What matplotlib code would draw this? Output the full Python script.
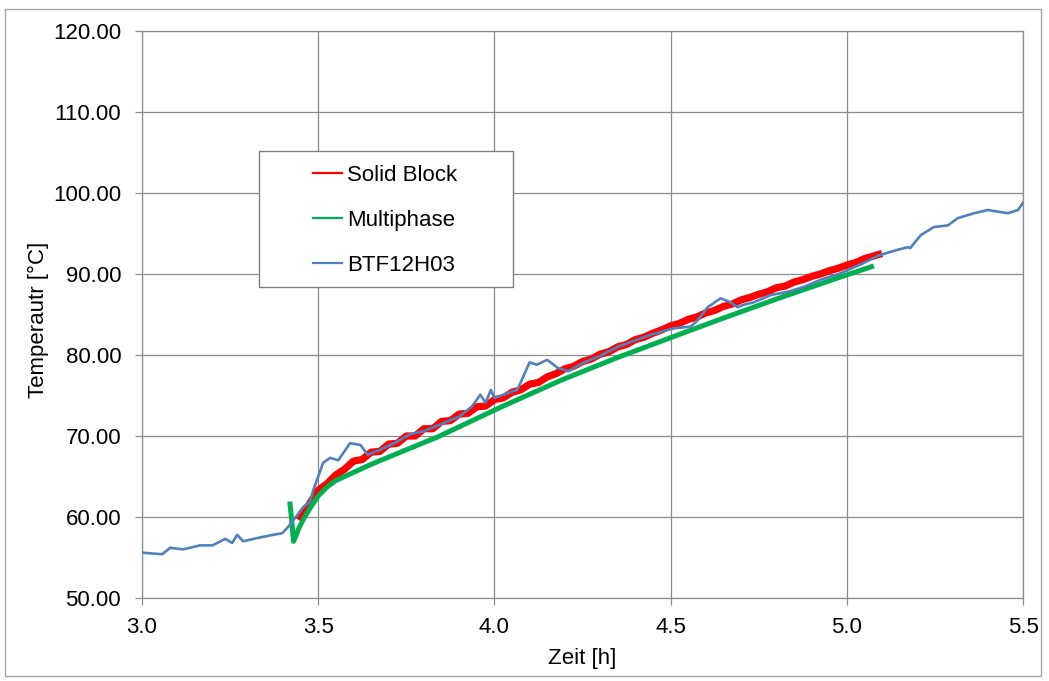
import matplotlib
matplotlib.use("Agg")
import matplotlib.pyplot as plt
from matplotlib.lines import Line2D
from matplotlib.patches import Rectangle
from matplotlib.ticker import MultipleLocator, FormatStrFormatter

plt.rcParams["font.family"] = ["Liberation Sans", "DejaVu Sans"]

# Solid Block simulation (noisy solver output)
solid_t = [3.450, 3.475, 3.500, 3.525, 3.550, 3.575, 3.600, 3.625, 3.650, 3.675,
           3.700, 3.725, 3.750, 3.775, 3.800, 3.825, 3.850, 3.875, 3.900, 3.925,
           3.950, 3.975, 4.000, 4.025, 4.050, 4.075, 4.100, 4.125, 4.150, 4.175,
           4.200, 4.225, 4.250, 4.275, 4.300, 4.325, 4.350, 4.375, 4.400, 4.425,
           4.450, 4.475, 4.500, 4.525, 4.550, 4.575, 4.600, 4.625, 4.650, 4.675,
           4.700, 4.725, 4.750, 4.775, 4.800, 4.825, 4.850, 4.875, 4.900, 4.925,
           4.950, 4.975, 5.000, 5.025, 5.050, 5.075, 5.090]
solid_T = [60.0, 61.6, 63.3, 64.1, 65.2, 65.9, 66.9, 67.1, 68.0, 68.1,
           69.0, 69.1, 70.0, 70.0, 70.9, 70.9, 71.8, 71.9, 72.7, 72.8,
           73.6, 73.7, 74.5, 74.7, 75.4, 75.7, 76.4, 76.6, 77.3, 77.7,
           78.3, 78.6, 79.2, 79.5, 80.1, 80.4, 81.0, 81.3, 81.9, 82.2,
           82.7, 83.1, 83.6, 83.9, 84.4, 84.7, 85.2, 85.5, 86.0, 86.3,
           86.8, 87.1, 87.5, 87.8, 88.3, 88.5, 89.0, 89.3, 89.7, 90.0,
           90.4, 90.7, 91.1, 91.4, 91.9, 92.2, 92.4]

# Multiphase simulation
multi_t = [3.420, 3.425, 3.430, 3.435, 3.445, 3.460, 3.480, 3.500, 3.525, 3.550,
           3.650, 3.750, 3.840, 4.020, 4.190, 4.350, 4.510, 4.640, 4.800, 4.980,
           5.070]
multi_T = [61.6, 59.5, 57.0, 57.5, 58.6, 59.9, 61.3, 62.6, 63.7, 64.5,
           66.5, 68.3, 69.9, 73.6, 76.9, 79.7, 82.3, 84.4, 86.9, 89.6,
           90.9]

# Measurement BTF12H03
meas_t = [3.000, 3.057, 3.080, 3.116, 3.165, 3.200, 3.236, 3.256, 3.270, 3.287,
          3.327, 3.372, 3.398, 3.415, 3.435, 3.457, 3.477, 3.486, 3.514, 3.534,
          3.557, 3.590, 3.620, 3.640, 3.676, 3.724, 3.760, 3.800, 3.850, 3.900,
          3.935, 3.944, 3.960, 3.975, 3.990, 4.000, 4.065, 4.100, 4.120, 4.150,
          4.180, 4.210, 4.250, 4.300, 4.350, 4.443, 4.510, 4.557, 4.577, 4.605,
          4.642, 4.670, 4.690, 4.707, 4.736, 4.784, 4.832, 4.878, 4.926, 4.983,
          5.040, 5.091, 5.145, 5.173, 5.180, 5.210, 5.247, 5.287, 5.315, 5.361,
          5.400, 5.457, 5.486, 5.500]
meas_T = [55.6, 55.4, 56.2, 56.0, 56.5, 56.5, 57.3, 56.8, 57.8, 57.0,
          57.4, 57.8, 58.0, 58.8, 59.9, 61.2, 61.9, 63.3, 66.7, 67.3,
          67.0, 69.1, 68.9, 67.7, 68.3, 69.3, 70.2, 70.6, 71.5, 72.4,
          73.6, 74.1, 75.1, 74.1, 75.7, 74.7, 75.7, 79.1, 78.8, 79.4,
          78.4, 78.0, 79.0, 79.9, 81.0, 82.5, 83.3, 83.5, 84.3, 85.9,
          87.0, 86.5, 85.9, 86.2, 86.5, 87.4, 87.8, 88.4, 89.3, 90.1,
          91.2, 92.3, 93.0, 93.3, 93.2, 94.8, 95.8, 96.0, 96.9, 97.5,
          97.9, 97.5, 97.9, 98.8]

SERIES = ["Solid Block", "Multiphase", "BTF12H03"]
COLORS = ["#ff0000", "#00b050", "#4f81bd"]
GRID = "#8c8c8c"

W, H = 1049, 681
fig = plt.figure(figsize=(W / 100, H / 100), dpi=100)
ax = fig.add_axes([142 / W, 1 - 598 / H, (1023 - 142) / W, (598 - 31) / H])

ax.plot(solid_t, solid_T, color=COLORS[0], lw=5.2, zorder=3)
ax.plot(multi_t, multi_T, color=COLORS[1], lw=3.6, zorder=3.1)
ax.plot(meas_t, meas_T, color=COLORS[2], lw=1.9, zorder=3.2)

ax.set_xlim(3.0, 5.5)
ax.set_ylim(50, 120)
ax.xaxis.set_major_locator(MultipleLocator(0.5))
ax.yaxis.set_major_locator(MultipleLocator(10))
ax.xaxis.set_major_formatter(FormatStrFormatter("%.1f"))
ax.yaxis.set_major_formatter(FormatStrFormatter("%.2f"))
ax.grid(True, color=GRID, lw=0.9)
ax.set_axisbelow(True)
for sp in ax.spines.values():
    sp.set_color(GRID)
    sp.set_linewidth(0.9)
ax.tick_params(axis="both", direction="out", length=5, width=0.9, color=GRID,
               labelsize=16, labelcolor="black")
ax.tick_params(axis="y", pad=10)
ax.tick_params(axis="x", pad=9)

ax.set_xlabel("Zeit [h]", fontsize=16, va="center")
ax.xaxis.set_label_coords(0.5, -0.106)
ax.set_ylabel("Temperautr [°C]", fontsize=16, va="center", ha="center")
ax.yaxis.set_label_coords(-0.118, 0.49)

# legend: white box with thin border, entries inside
box = Rectangle((259 / W, 1 - 287 / H), 254 / W, 136 / H, transform=fig.transFigure,
                facecolor="white", edgecolor="#7f7f7f", lw=1.0, zorder=5)
ax.add_artist(box)
handles = [Line2D([0], [0], color=c, lw=1.6) for c in COLORS]
leg = ax.legend(handles, SERIES, loc="upper left", bbox_to_anchor=(313 / W, 1 - 165 / H),
                bbox_transform=fig.transFigure, frameon=False, fontsize=16,
                borderpad=0, borderaxespad=0, handlelength=1.3, handletextpad=0.25,
                labelspacing=1.08)
leg.set_zorder(6)

# outer chart frame
fig.add_artist(Rectangle((5 / W, 1 - 676 / H), 1036 / W, 667 / H, transform=fig.transFigure,
                         fill=False, edgecolor="#a6a6a6", lw=1.0))

fig.savefig("out.png", dpi=100)
